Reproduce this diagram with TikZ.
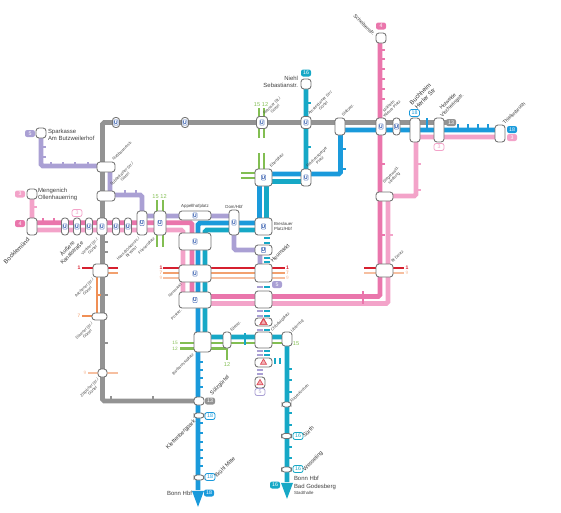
\documentclass[tikz,border=0pt]{standalone}
\usepackage{fontspec}
\setmainfont{Liberation Sans}
\usetikzlibrary{shapes.geometric}
\definecolor{cGray}{HTML}{939393}
\definecolor{cBlue}{HTML}{1A9ADB}
\definecolor{cTeal}{HTML}{16A8C6}
\definecolor{cPink}{HTML}{EA76AC}
\definecolor{cRose}{HTML}{F3A3C9}
\definecolor{cPurp}{HTML}{AAA0D4}
\definecolor{cGreen}{HTML}{82BE52}
\definecolor{cRed}{HTML}{D6202F}
\definecolor{cOrng}{HTML}{F08F55}
\definecolor{cSalm}{HTML}{F6BFA0}
\definecolor{cUb}{HTML}{2450A8}
\tikzset{
 x=0.02cm,y=-0.02cm,
 line/.style={line width=2.8pt},
 thinl/.style={line width=1.6pt},
 tk/.style={line width=0.8pt},
 st/.style={draw=black!55,fill=white,rounded corners=1.7pt,line width=0.5pt,inner sep=0,outer sep=0},
 ub/.style={draw=cUb!70,fill=white,line width=0.3pt,text=cUb,rounded corners=0.5pt,inner sep=0,outer sep=0,minimum width=4.4*0.02cm,minimum height=5.4*0.02cm,font=\fontsize{2.8}{3}\selectfont\bfseries},
 lab/.style={rounded corners=1.2pt,inner sep=0,outer sep=0,minimum width=10*0.02cm,minimum height=7*0.02cm,font=\fontsize{3}{3.4}\selectfont},
 txt/.style={inner sep=0,outer sep=0,font=\fontsize{3.4}{4}\selectfont,text=black!75,align=left},
 big/.style={inner sep=0,outer sep=0,font=\fontsize{3.15}{3.6}\selectfont,text=black!80,align=center,rotate=45},
 bigger/.style={big,font=\fontsize{3.5}{3.9}\selectfont},
 mid/.style={big,font=\fontsize{2.9}{3.2}\selectfont},
 sml/.style={inner sep=0,outer sep=0,font=\fontsize{2.25}{2.5}\selectfont,text=black!75,align=center,rotate=45},
 hz/.style={inner sep=0,outer sep=0,font=\fontsize{2.5}{2.8}\selectfont,text=black!75,align=center},
 num/.style={inner sep=0,outer sep=0,font=\fontsize{2.7}{3}\selectfont},
 grn/.style={inner sep=0,outer sep=0,font=\fontsize{3.2}{3.4}\selectfont,text=cGreen},
 num1/.style={num,font=\fontsize{2.9}{3}\selectfont\bfseries,text=cRed},
 warn/.style={regular polygon,regular polygon sides=3,draw=cRed!80,fill=cRed!35,line width=0.4pt,inner sep=0,minimum size=7*0.02cm},
 arr/.style={isosceles triangle,shape border rotate=-90,isosceles triangle stretches,inner sep=0,outer sep=0},
}
\newcommand{\St}[5]{\node[st,minimum width=#4*0.02cm,minimum height=#5*0.02cm] (#1) at (#2,#3) {};}
\newcommand{\Ub}[2]{\node[ub] at (#1,#2) {U};}
\newcommand{\Lf}[4]{\node[lab,fill=#1,text=white] at (#2,#3) {#4};}
\newcommand{\Lo}[4]{\node[lab,draw=#1,fill=white,text=#1,line width=0.45pt] at (#2,#3) {#4};}
\begin{document}
\begin{tikzpicture}
\useasboundingbox (0,0) rectangle (561,512);
% ---------- route coordinates
\coordinate (g1) at (102.5,122.5); \coordinate (g2) at (451,122.5); \coordinate (g3) at (102.5,401); \coordinate (g4) at (198,401);
\coordinate (b1) at (500,130); \coordinate (b2) at (340.5,130); \coordinate (b3) at (340.5,174); \coordinate (b4) at (259.5,174);
\coordinate (b5) at (259.5,223); \coordinate (b6) at (198,223); \coordinate (b7) at (198,490);
\coordinate (t1) at (306,84); \coordinate (t2) at (306,181.5); \coordinate (t3) at (266.5,181.5); \coordinate (t4) at (266.5,230);
\coordinate (t5) at (205,230); \coordinate (t6) at (205,337); \coordinate (t7) at (287,337); \coordinate (t8) at (287,482);
\coordinate (p1) at (380,38); \coordinate (p2) at (380,296.5); \coordinate (p3) at (192,296.5); \coordinate (p4) at (192,222.7); \coordinate (p5) at (32,222.7);
\coordinate (r1) at (500,137); \coordinate (r2) at (416,137); \coordinate (r3) at (416,196); \coordinate (r4) at (388,196); \coordinate (r5) at (388,303.5); \coordinate (r6) at (183,303.5); \coordinate (r7) at (183,230); \coordinate (r8) at (32,230); \coordinate (r9) at (32,194);
\coordinate (v1) at (41,133); \coordinate (v2) at (41,166); \coordinate (v4) at (110,166); \coordinate (v5) at (110,195); \coordinate (v6) at (142,195); \coordinate (v7) at (142,216); \coordinate (v8) at (234,216); \coordinate (v9) at (234,250); \coordinate (v10) at (260,250); \coordinate (v11) at (260,268);
% ---------- lines
\draw[thinl,cRed] (82,268) -- (118,268);
\draw[thinl,cRed] (163,268) -- (285,268);
\draw[thinl,cRed] (364,268) -- (404,268);
\draw[thinl,cOrng!85] (108,273) -- (118,273);
\draw[thinl,cOrng!85] (163,273) -- (285,273);
\draw[thinl,cSalm] (364,273) -- (404,273);
\draw[thinl,cSalm] (163,278) -- (285,278);
\draw[thinl,cOrng] (82,316) -- (92,316);
\draw[thinl,cOrng] (97,277) -- (97,316);
\draw[thinl,cSalm] (88,373) -- (118,373);
\draw[line,cPurp,rounded corners=1pt] (v1) -- (v2) -- (v4) -- (v5) -- (v6) -- (v7) -- (v8) -- (v9) -- (v10) -- (v11);
\draw[line,cGray,rounded corners=1pt] (g2) -- (g1) -- (g3) -- (g4);
\draw[line,cRose,rounded corners=1pt] (r1) -- (r2) -- (r3) -- (r4) -- (r5) -- (r6) -- (r7) -- (r8) -- (r9);
\draw[line,cPink,rounded corners=1pt] (p1) -- (p2) -- (p3) -- (p4) -- (p5);
\draw[line,cBlue,rounded corners=1pt] (b1) -- (b2) -- (b3) -- (b4) -- (b5) -- (b6) -- (b7);
\draw[line,cTeal,rounded corners=1pt] (t1) -- (t2) -- (t3) -- (t4) -- (t5) -- (t6) -- (t7) -- (t8);
\draw[line,cGray] (102.5,200) -- (102.5,300);
\foreach \x in {157,163} \draw[thinl,cGreen] (\x,200) -- (\x,247);
\foreach \x in {259,264}{\draw[thinl,cGreen] (\x,108) -- (\x,138); \draw[thinl,cGreen] (\x,153) -- (\x,172);}
\foreach \y in {173,178} \draw[thinl,cGreen] (241,\y) -- (258,\y);
\draw[thinl,cGreen] (180,343) -- (287,343);
\draw[thinl,cGreen] (180,348.5) -- (227,348.5) -- (227,360);
% ---------- ticks
\foreach \y in {147,157} \draw[tk,cPurp] (41,\y) -- ++(5,0);
\foreach \x in {51,63,75,88} \draw[tk,cPurp] (\x,166) -- ++(0,-4.5);
\foreach \x in {125,136} \draw[tk,cPurp] (\x,195) -- ++(0,-5);
\foreach \y in {242,252,295,343} \draw[tk,cGray] (102.5,\y) -- ++(5,0);
\foreach \x in {111,153} \draw[tk,cGray] (\x,401) -- ++(0,-5);
\draw[tk,cRose] (32,207) -- ++(5,0);
\foreach \x in {43,54} \draw[tk,cPink] (\x,222.7) -- ++(0,-5);
\draw[tk,cOrng] (97,295) -- ++(4,0);
\foreach \y in {50,59,69,79,89,99,164,235} \draw[tk,cPink] (380,\y) -- ++(5,0);
\foreach \y in {164,190} \draw[tk,cRose] (416,\y) -- ++(5,0);
\draw[tk,cRose] (388,235) -- ++(5,0);
\draw[tk,cPink] (363,291) -- (363,304);
\foreach \x in {458,468,478,488} \draw[tk,cBlue] (\x,130) -- ++(0,-6);
\draw[tk,cBlue] (427,130) -- (427,118);
\foreach \y in {103,147} \draw[tk,cTeal] (306,\y) -- ++(5,0);
\foreach \y in {149,169} \draw[tk,cBlue] (340.5,\y) -- ++(5,0);
\foreach \y in {362,370,378,387,423,433,442,450,458,466} \draw[tk,cBlue] (198,\y) -- ++(5,0);
\foreach \y in {369,380,392,413,425,447,458} \draw[tk,cTeal] (287,\y) -- ++(5,0);
\draw[tk,cTeal] (245,333) -- (245,345);
% ---------- tunnel dashes
\foreach \y in {238,243,258,262,287,311,316,330,351,355} \draw[line width=1.5pt,cTeal] (264,\y) -- (270,\y);
\foreach \y in {287,311,316,330,351,355,370,374} \draw[line width=1.2pt,cPurp] (257,\y) -- (263,\y);
\foreach \x in {275,280} \draw[line width=1.5pt,cTeal] (\x,358) -- (\x,364);
% ---------- stations
\St{sSpark}{41}{133}{10}{10}
\St{sMeng}{32}{194}{10}{10}
\St{sBock}{32}{226.5}{10}{17}
\St{sNuss}{106}{167}{18}{10}
\St{sSubb}{106}{196}{18}{10}
\St{sAuss0}{65}{226.5}{7}{17}
\St{sAuss}{77}{226.5}{7}{17}
\St{sVenl}{89}{226.5}{7}{17}
\St{sKreuz}{102}{226.5}{10}{17}
\St{sHans1}{116}{226.5}{7}{17}
\St{sHans}{128}{226.5}{7}{17}
\St{sFr1}{142}{223}{10}{24}
\St{sFr}{160}{223}{12}{24}
\St{sAach}{100.5}{270.5}{15}{13}
\St{sDuer}{99.5}{316.5}{15}{7}
\St{sZuel}{102.5}{373}{9}{8}
\St{sAppe}{195}{215.5}{32}{9}
\St{sRudo}{195}{241.5}{32}{17}
\St{sNeum}{195}{273.5}{32}{17}
\St{sPost}{195}{300}{32}{16}
\St{sDom}{234}{222.5}{10}{25}
\St{sBres}{263.5}{226.5}{17}{17}
\St{sHeu1}{263.5}{250}{17}{10}
\St{sHeu}{263.5}{273}{17}{18}
\St{sHeu2}{263.5}{299.5}{17}{17}
\St{sWarn1}{263.5}{322}{17}{8}
\St{sChlo}{263.5}{340}{17}{16}
\St{sUbi}{287}{339}{10}{14}
\St{sEif}{227}{340}{8}{16}
\St{sBarb}{202.5}{342}{17}{20}
\St{sWarn2}{263.5}{362.5}{17}{9}
\St{sWarn3}{260}{382.5}{10}{11}
\St{sSuel}{199}{401}{10}{8}
\St{sKlet}{199}{415.5}{10}{5}
\St{sBrue}{199}{477.5}{10}{5}
\St{sRod}{286.5}{404.5}{9}{5}
\St{sSur}{286.5}{436}{10}{5}
\St{sWes}{286.5}{469.5}{10}{5}
\St{sHans2}{263.5}{177.5}{17}{17}
\St{sReich}{306}{177.5}{10}{17}
\St{sNeus}{262}{122.5}{11}{12}
\St{sAms}{306}{122.5}{10}{12}
\St{sTop1}{116}{122.5}{7}{10}
\St{sTop2}{185}{122.5}{7}{10}
\St{sNiehl}{306}{84}{10}{10}
\St{sSlab}{340}{126.5}{10}{17}
\St{sWien}{381}{126.5}{10}{17}
\St{sWie2}{396.5}{126.5}{7}{17}
\St{sBuch}{415}{130}{10}{24}
\St{sHolw}{439}{130}{10}{24}
\St{sThie}{500}{133.5}{10}{17}
\St{sSche}{381}{38}{10}{10}
\St{sSteg}{384.5}{196.5}{17}{9}
\St{sDeut}{384.5}{270.5}{17}{13}
% ---------- U signs
\foreach \x/\y in {65/226.5,77/226.5,89/226.5,102/226.5,116/226.5,128/226.5,142/223,160/223,195/215.5,195/241.5,195/273.5,195/300,234/222.5,263.5/226.5,263.5/250,263.5/177.5,306/177.5,262/122.5,306/122.5,116/122.5,185/122.5,381/126.5,396.5/126.5} \Ub{\x}{\y}
% ---------- warning triangles
\node[warn] (w1) at (263.5,322.5) {};
\node[warn] (w2) at (263.5,362.5) {};
\node[warn] (w3) at (260,383) {};
% ---------- arrow ends
\node[arr,fill=cBlue,minimum width=12*0.02cm,minimum height=16*0.02cm] (endB) at (198,495) {};
\node[arr,fill=cTeal,minimum width=12*0.02cm,minimum height=16*0.02cm] (endT) at (287,487) {};
% ---------- line badges
\Lf{cPurp}{30}{133.5}{5}
\Lf{cRose}{20}{194}{3}
\Lf{cPink}{20}{223.5}{4}
\Lo{cRose}{77}{213}{3}
\Lf{cTeal}{306}{73}{16}
\Lf{cPink}{381}{26}{4}
\Lo{cBlue}{414.5}{113}{18}
\Lf{cGray}{451}{122.5}{13}
\Lo{cRose}{439}{147}{3}
\Lf{cBlue}{512}{129.5}{18}
\Lf{cRose}{512}{137.5}{3}
\Lf{cGray}{210}{401}{13}
\Lo{cBlue}{210}{416}{18}
\Lo{cBlue}{210}{477}{18}
\Lf{cBlue}{209}{493}{18}
\Lf{cPurp}{277}{284.5}{5}
\Lo{cTeal}{298}{436}{16}
\Lo{cTeal}{298}{469}{16}
\Lf{cTeal}{275}{485}{16}
\Lo{cPurp}{260}{392}{5}
% ---------- plain numbers
\node[num1] at (79,268) {1};
\node[num1] at (161,268) {1};
\node[num,cOrng] at (161,273) {7};
\node[num,cSalm] at (161,278) {9};
\node[num1] at (287.5,268) {1};
\node[num,cOrng] at (287.5,273) {7};
\node[num,cSalm] at (287.5,278) {9};
\node[num1] at (407,268) {1};
\node[num,cSalm] at (407,273) {9};
\node[num,cOrng] at (79,316) {7};
\node[num,cSalm] at (85,373) {9};
\node[grn] at (155.5,197) {15};
\node[grn] at (163.5,197) {12};
\node[grn] at (257,105) {15};
\node[grn] at (265,105) {12};
\node[grn,font=\fontsize{2.7}{3}\selectfont] at (175,342.5) {15};
\node[grn,font=\fontsize{2.7}{3}\selectfont] at (175,348.5) {12};
\node[grn] at (296,343.5) {15};
\node[grn] at (227,364.5) {12};
% ---------- horizontal names
\node[txt,anchor=west] at (48,135) {Sparkasse\\Am Butzweilerhof};
\node[txt,anchor=west] at (38,194.5) {Mengenich\\Ollenhauerring};
\node[txt,anchor=east,align=right] at (298,82) {Niehl\\Sebastianstr.};
\node[txt,anchor=east] at (192,493) {Bonn Hbf};
\node[txt,anchor=west] (bgb) at (294,483) {Bonn Hbf\\[1pt]Bad Godesberg};
\node[hz,anchor=west] at (294,493) {Stadthalle};
\node[hz] at (195,206.5) {Appellhofplatz};
\node[hz] at (234,206.5) {Dom/Hbf};
\node[hz,anchor=west,align=left] at (274,226.5) {Breslauer\\Platz/Hbf};
% ---------- rotated names
\node[bigger,anchor=north east] at (27,237) {Bocklemünd};
\node[big,anchor=north east] at (76,236) {Äußere\\Kanalstraße};
\node[sml,anchor=north east] at (96,238) {Venloer Str./\\Gürtel};
\node[sml,anchor=north east] at (138,237) {Hans-Böckler-Pl./\\Bf West};
\node[sml,anchor=north east] at (153,237) {Friesenplatz};
\node[sml,anchor=north east] at (92,278) {Aachener Str./\\Gürtel};
\node[sml,anchor=north east] at (91,322) {Dürener Str./\\Gürtel};
\node[sml,anchor=north east] at (97,378) {Zülpicher Str./\\Gürtel};
\node[sml,anchor=south west] at (114,161) {Nußbaumerstr.};
\node[sml,anchor=south west] at (115,189) {Subbelrather Str./\\Gürtel};
\node[sml,anchor=south west] at (268,118) {Neusser Str./\\Gürtel};
\node[sml,anchor=south west] at (313,118) {Amsterdamer Str./\\Gürtel};
\node[sml,anchor=south west] at (344,117) {Slabystr.};
\node[sml,anchor=south west] at (272,168) {Ebertplatz};
\node[sml,anchor=south west] at (311,171) {Reichensperger\\Platz};
\node[sml,anchor=south west] at (385,118) {Mülheim\\Wiener Platz};
\node[bigger,anchor=south west] at (417,110) {Buchheim\\Herler Str};
\node[mid,anchor=south west] at (443,118) {Holweide\\Vischeringstr.};
\node[mid,anchor=south west] at (505,125) {Thielenbruch};
\node[mid,anchor=south east,rotate=-90] at (373,36) {Scheibenstr.};
\node[sml,anchor=south west] at (388,187) {Stegerwald-\\siedlung};
\node[sml,anchor=south west] at (393,263) {Bf Deutz};
\node[sml,anchor=north east] at (180,283) {Neumarkt};
\node[sml,anchor=north east] at (180,309) {Poststr.};
\node[big,anchor=south west] at (273,263) {Heumarkt};
\node[sml,anchor=south west] at (273,332) {Chlodwigplatz};
\node[sml,anchor=south west] at (232,332) {Eifelstr.};
\node[sml,anchor=south west] at (293,333) {Ubierring};
\node[sml,anchor=north east] at (192,353) {Barbarossaplatz};
\node[big,anchor=south west] at (213,396) {Sülzgürtel};
\node[big,anchor=north east] at (193,419) {Klettenbergpark};
\node[big,anchor=south west] at (217,478) {Brühl Mitte};
\node[sml,anchor=south west] at (292,403) {Rodenkirchen};
\node[big,anchor=south west] at (305,438) {Sürth};
\node[big,anchor=south west] at (306,472) {Wesseling};
\end{tikzpicture}
\end{document}
